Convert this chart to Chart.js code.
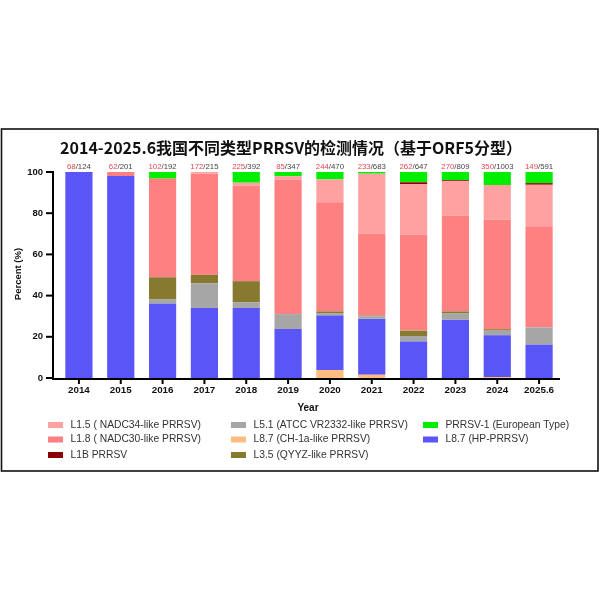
<!DOCTYPE html>
<html>
<head>
<meta charset="utf-8">
<script src="https://cdn.jsdelivr.net/npm/chart.js@4"></script>
<style>
html,body{margin:0;padding:0;background:#fff;}
#wrap{position:relative;width:600px;height:600px;}
</style>
</head>
<body>
<div id="wrap"><canvas id="c" width="600" height="600"></canvas></div>
<script>
const years = ['2014','2015','2016','2017','2018','2019','2020','2021','2022','2023','2024','2025.6'];
const positives = [68,62,102,172,225,85,244,233,262,270,350,149];
const totals = [124,201,192,215,392,347,470,683,647,809,1003,591];
const yTicks = [0,20,40,60,80,100];

// percentages, stacked bottom to top
const ch1a  = [0,0,0,0,0,0,3.9,1.6,0,0,0.5,0];
const hp    = [100,98.0,36.0,34.0,34.0,23.8,26.4,27.1,17.7,28.2,20.2,16.2];
const l51   = [0,0,2.1,12.0,2.8,7.2,1.0,1.3,2.7,3.1,2.3,8.4];
const l35   = [0,0,10.8,4.1,10.2,0,1.0,0.3,2.6,1.0,0.7,0];
const l18   = [0,2.0,47.9,49.1,46.5,65.4,53.0,39.7,46.7,46.6,53.3,49.1];
const l15   = [0,0,0,0.8,1.3,1.6,11.1,29.2,24.3,16.6,16.7,20.1];
const l1b   = [0,0,0,0,0,0,0,0,1.0,0.5,0,0.8];
const prrsv1= [0,0,3.2,0,5.2,2.0,3.6,0.8,5.0,4.0,6.3,5.4];

const COL = {
  l15:'#ffa1a1', l18:'#ff8080', l1b:'#8b0000', l51:'#a6a6a6',
  ch1a:'#ffbb80', l35:'#857a30', prrsv1:'#00ee00', hp:'#5a55f7'
};

const datasets = [
  {key:'ch1a', label:'L8.7 (CH-1a-like PRRSV)', data:ch1a},
  {key:'hp', label:'L8.7 (HP-PRRSV)', data:hp},
  {key:'l51', label:'L5.1 (ATCC VR2332-like PRRSV)', data:l51},
  {key:'l35', label:'L3.5 (QYYZ-like PRRSV)', data:l35},
  {key:'l18', label:'L1.8 ( NADC30-like PRRSV)', data:l18},
  {key:'l15', label:'L1.5 ( NADC34-like PRRSV)', data:l15},
  {key:'l1b', label:'L1B PRRSV', data:l1b},
  {key:'prrsv1', label:'PRRSV-1 (European Type)', data:prrsv1}
].map(d => ({label:d.label, key:d.key, data:d.data, backgroundColor:COL[d.key], borderWidth:0,
  barPercentage:0.65, categoryPercentage:1.0}));

// legend layout: columns
const legendCols = [
  ['l15','l18','l1b'],
  ['l51','ch1a','l35'],
  ['prrsv1','hp']
];
const legendColX = [48, 231, 423];
const legendRowY = [425, 439.5, 455];

const AXL = 53; // y-axis line x
const SANS = 'Arial, "Liberation Sans", sans-serif';

const decor = {
  id:'decor',
  beforeDraw(chart){
    const ctx = chart.ctx;
    ctx.save();
    ctx.fillStyle = '#fff';
    ctx.fillRect(0,0,chart.width,chart.height);
    // frame
    ctx.strokeStyle = '#111';
    ctx.lineWidth = 1.6;
    ctx.strokeRect(1.5,129,596.5,342);
    ctx.restore();
  },
  afterDraw(chart){
    const ctx = chart.ctx;
    const x = chart.scales.x, y = chart.scales.y;
    const ca = chart.chartArea;
    ctx.save();
    // title
    const title = '2014-2025.6我国不同类型PRRSV的检测情况（基于ORF5分型）';
    let fs = 16;
    ctx.font = `bold ${fs}px "Noto Sans CJK SC", ${SANS}`;
    const w = ctx.measureText(title).width;
    fs = fs * 462 / w;
    ctx.font = `bold ${fs}px "Noto Sans CJK SC", ${SANS}`;
    ctx.fillStyle = '#111';
    ctx.textAlign = 'center';
    ctx.textBaseline = 'middle';
    ctx.fillText(title, 291, 148);

    // axes lines
    ctx.strokeStyle = '#000';
    ctx.lineWidth = 2;
    ctx.beginPath();
    ctx.moveTo(AXL, y.getPixelForValue(100) - 1);
    ctx.lineTo(AXL, y.getPixelForValue(0) + 1);
    ctx.lineTo(ca.right, y.getPixelForValue(0) + 1);
    ctx.stroke();
    // y ticks
    ctx.lineWidth = 2;
    yTicks.forEach(v => {
      const py = y.getPixelForValue(v);
      ctx.beginPath();
      ctx.moveTo(AXL - 7, py);
      ctx.lineTo(AXL, py);
      ctx.stroke();
    });
    // x ticks
    years.forEach((lab, i) => {
      const px = x.getPixelForValue(i);
      ctx.beginPath();
      ctx.moveTo(px, y.getPixelForValue(0) + 1);
      ctx.lineTo(px, y.getPixelForValue(0) + 6);
      ctx.stroke();
    });

    // y title
    ctx.save();
    ctx.translate(18, 274);
    ctx.rotate(-Math.PI/2);
    ctx.font = `bold 9.5px ${SANS}`;
    ctx.fillStyle = '#111';
    ctx.textAlign = 'center';
    ctx.textBaseline = 'middle';
    ctx.fillText('Percent (%)', 0, 0);
    ctx.restore();

    // x title
    ctx.font = `bold 10px ${SANS}`;
    ctx.fillStyle = '#111';
    ctx.textAlign = 'center';
    ctx.textBaseline = 'middle';
    ctx.fillText('Year', 308, 408);

    // counts above bars
    ctx.font = `7.8px ${SANS}`;
    ctx.textBaseline = 'middle';
    years.forEach((lab, i) => {
      const px = x.getPixelForValue(i);
      const a = String(positives[i]), b = '/' + totals[i];
      const wa = ctx.measureText(a).width, wb = ctx.measureText(b).width;
      const sx = px - (wa + wb) / 2;
      ctx.textAlign = 'left';
      ctx.fillStyle = '#e2474f';
      ctx.fillText(a, sx, 166.5);
      ctx.fillStyle = '#444';
      ctx.fillText(b, sx + wa, 166.5);
    });

    // legend
    ctx.font = `10.3px ${SANS}`;
    ctx.textBaseline = 'middle';
    ctx.textAlign = 'left';
    legendCols.forEach((col, ci) => {
      col.forEach((key, ri) => {
        const ds = chart.data.datasets.find(d => d.key === key);
        const lx = legendColX[ci], ly = legendRowY[ri];
        ctx.fillStyle = ds.backgroundColor;
        ctx.fillRect(lx, ly - 3, 15, 6);
        ctx.fillStyle = '#333';
        ctx.fillText(ds.label, lx + 22.5, ly);
      });
    });
    ctx.restore();
  }
};

new Chart(document.getElementById('c'), {
  type:'bar',
  data:{labels:years, datasets},
  plugins:[decor],
  options:{
    responsive:false,
    animation:false,
    devicePixelRatio:1,
    layout:{padding:{left:0, top:172, right:40, bottom:192}},
    plugins:{legend:{display:false}, title:{display:false}, tooltip:{enabled:false}},
    scales:{
      x:{
        stacked:true,
        grid:{display:false, drawTicks:false},
        border:{display:false},
        ticks:{color:'#111', font:{family:SANS, size:9.8, weight:'bold'}, padding:6, maxRotation:0, autoSkip:false},
        afterFit(s){ s.height = 30; }
      },
      y:{
        stacked:true,
        min:0, max:100,
        grid:{display:false, drawTicks:false},
        border:{display:false},
        afterBuildTicks(s){ s.ticks = yTicks.map(v => ({value:v})); },
        ticks:{color:'#111', font:{family:SANS, size:9.5, weight:'bold'}, padding:15},
        afterFit(s){ s.width = 58; }
      }
    }
  }
});
</script>
</body>
</html>
